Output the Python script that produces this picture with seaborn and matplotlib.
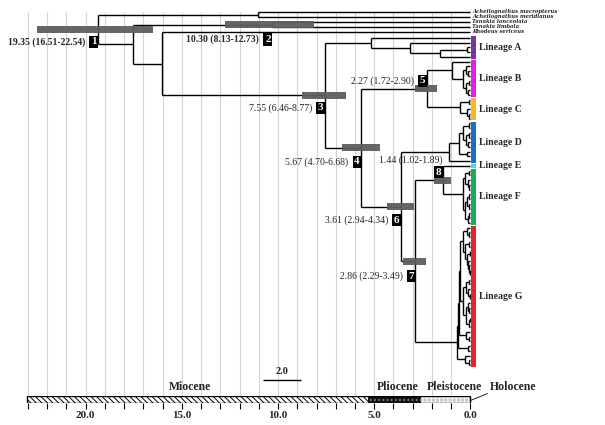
import matplotlib
matplotlib.use("Agg")
import matplotlib.pyplot as plt
from matplotlib.patches import Rectangle
import numpy as np
import pandas as pd
import seaborn as sns

sns.set_theme(style="white")
plt.rcParams['font.family'] = ['Liberation Serif', 'DejaVu Serif']
plt.rcParams['hatch.linewidth'] = 0.7

# ---------------- data ----------------
outgroup_taxa = ["Acheilognathus macropterus", "Acheilognathus meridianus",
                 "Tanakia lanceolata", "Tanakia limbata", "Rhodeus sericeus"]

# calibrated nodes (Myr)
node_number = [1, 2, 3, 4, 5, 6, 7, 8]
node_age = [19.35, 10.30, 7.55, 5.67, 2.27, 3.61, 2.86, 1.44]
hpd_low = [16.51, 8.13, 6.46, 4.70, 1.72, 2.94, 2.29, 1.02]
hpd_high = [22.54, 12.73, 8.77, 6.68, 2.90, 4.34, 3.49, 1.89]

# lineage subtrees (newick, internal labels = node ages in Myr)
clade_A = "(A1,(A2,((A3,A4)0.16,A5)1.56)3.12)5.19"
clade_B = "(B1,((B2,(B3,B4)0.12)0.22,((B5,B6)0.1,(B7,B8)0.14)0.25)0.38)0.94"
clade_C = "((C1,C2)0.1,(C3,(C4,C5)0.08)0.2)0.55"
clade_D = "((((D1,D2)0.1,((D3,D4)0.08,(D5,D6)0.12)0.25)0.4,(D7,D8)0.2)0.62,D9)1.14"
clade_E = "E1"
clade_F = ("(((F1,F2)0.1,(F3,(F4,F5)0.06)0.15)0.3,"
           "(((F6,F7)0.08,(F8,F9)0.1)0.2,((F10,F11)0.07,F12)0.15)0.28)0.4")
clade_GA = ("((G1,(G2,G3)0.06)0.2,((G4,G5)0.08,((G6,G7)0.05,"
            "(G8,(G9,(G10,G11)0.03)0.07)0.12)0.2)0.3)0.4")
clade_GB = ("(((G12,G13)0.07,(G14,(G15,G16)0.05)0.12)0.25,"
            "((G17,(G18,G19)0.06)0.15,((G20,G21)0.05,G22)0.1)0.22)0.38")
clade_G = (f"(((({clade_GA},{clade_GB})0.52,(G23,(G24,G25)0.1)0.25)0.58,"
           f"(G26,G27)0.15)0.64,(G28,(G29,G30)0.08)0.3)0.7")
ingroup = (f"({clade_A},(({clade_B},{clade_C})#5,({clade_D},"
           f"(({clade_E},{clade_F})#8,{clade_G})#7)#6)#4)#3")
full_tree = (f"((Acheilognathus macropterus,Acheilognathus meridianus)11.05,"
             f"((Tanakia lanceolata,Tanakia limbata)#2,"
             f"(Rhodeus sericeus,{ingroup})16.05)17.55)#1")

lineage_keys = ["A", "B", "C", "D", "E", "F", "G"]
lineage_names = ["Lineage A", "Lineage B", "Lineage C", "Lineage D",
                 "Lineage E", "Lineage F", "Lineage G"]
lineage_colors = ["#7434A4", "#E21FE6", "#F7B81F", "#1C6FC0",
                  "#46DCD6", "#13AE5E", "#E8232A"]

epoch_names = ["Miocene", "Pliocene", "Pleistocene", "Holocene"]
epoch_start = [23.03, 5.333, 2.58, 0.0117]
epoch_end = [5.333, 2.58, 0.0117, 0.0]

major_ticks = [20.0, 15.0, 10.0, 5.0, 0.0]
minor_ticks = list(range(0, 24))
scale_bar = 2.0

# ---------------- layout helpers ----------------
PX = 19.25          # pixels per Myr
X0 = 470.5          # pixel of age 0
W, H = 605, 425


def px(d):
    return d / PX


def parse(s):
    pos = 0

    def label():
        nonlocal pos
        st = pos
        while pos < len(s) and s[pos] not in ',()':
            pos += 1
        return s[st:pos]

    def node():
        nonlocal pos
        if s[pos] == '(':
            pos += 1
            kids = [node()]
            while s[pos] == ',':
                pos += 1
                kids.append(node())
            pos += 1
            return {'kids': kids, 'label': label()}
        return {'kids': [], 'label': label()}
    return node()


tree = parse(full_tree)

OUT_TOP, OUT_STEP = 12.0, 5.0
IN_TOP, IN_BOTTOM = 38.0, 365.0
leaves = []


def collect(n):
    if not n['kids']:
        leaves.append(n)
    for k in n['kids']:
        collect(k)


collect(tree)
n_in = sum(1 for l in leaves if l['label'] not in outgroup_taxa)
IN_STEP = (IN_BOTTOM - IN_TOP) / (n_in - 1)
io = ii = 0
for l in leaves:
    l['age'] = 0.0
    if l['label'] in outgroup_taxa:
        l['y'] = OUT_TOP + OUT_STEP * io
        io += 1
    else:
        l['y'] = IN_TOP + IN_STEP * ii
        ii += 1

calib = {}


def assign(n):
    if not n['kids']:
        return
    for k in n['kids']:
        assign(k)
    lab = n['label']
    if lab.startswith('#'):
        idx = int(lab[1:]) - 1
        n['age'] = node_age[idx]
        calib[idx] = n
    else:
        n['age'] = float(lab)
    n['y'] = (n['kids'][0]['y'] + n['kids'][-1]['y']) / 2


assign(tree)

hx, hy0, vx, vy0, vy1 = [], [], [], [], []


def segs(n):
    if not n['kids']:
        return
    vx.append(n['age'])
    vy0.append(n['kids'][0]['y'])
    vy1.append(n['kids'][-1]['y'])
    for k in n['kids']:
        hy0.append(k['y'])
        hx.append((n['age'], k['age']))
        segs(k)


segs(tree)

# ---------------- figure ----------------
fig = plt.figure(figsize=(W / 100, H / 100), dpi=100)
ax = fig.add_axes([0, 0, 1, 1])
ax.set_xlim(X0 / PX, -(W - X0) / PX)
ax.set_ylim(H, 0)
ax.set_axis_off()

# grid
ax.vlines(np.arange(1, 24), 12, 396, color="#d4d4d4", lw=0.8, zorder=0)

# branches
ax.hlines(hy0, [a for a, b in hx], [b for a, b in hx], color="black", lw=1.0, zorder=2)
ax.vlines(vx, vy0, vy1, color="black", lw=1.0, zorder=2)

# HPD bars
ys = [calib[i]['y'] for i in range(8)]
ax.barh(ys, np.array(hpd_high) - np.array(hpd_low), left=hpd_low, height=7,
        color="#5e5e5e", alpha=0.95, zorder=3, linewidth=0)

# node labels
box_dy = [12.5, 15.0, 12.5, 14.0, -8.0, 13.5, 15.0, -8.0]
for i in range(8):
    a, y = node_age[i], ys[i]
    by = y + box_dy[i]
    ax.text(a + px(1.5), by, str(node_number[i]), ha='right', va='center',
            color='white', fontsize=8, fontweight='bold', zorder=5,
            bbox=dict(boxstyle='square,pad=0.15', fc='black', ec='none'))
    lab = f"{node_age[i]:.2f} ({hpd_low[i]:.2f}-{hpd_high[i]:.2f})"
    wt = 'bold' if i < 2 else 'normal'
    if i == 7:
        ax.text(a, y - 19.5, lab, ha='right', va='center', fontsize=7,
                fontweight=wt, zorder=5)
    else:
        ax.text(a + px(13), by, lab, ha='right', va='center', fontsize=7,
                fontweight=wt, zorder=5)

# outgroup tip labels (wide, short glyphs like the reference)
for l in leaves:
    if l['label'] in outgroup_taxa:
        ax.text(-px(2), l['y'] - 0.8, l['label'], ha='left', va='center',
                fontsize=3.8, fontstyle='italic', fontweight='bold',
                family=['DejaVu Serif'])

# lineage bars and labels
for key, name, col in zip(lineage_keys, lineage_names, lineage_colors):
    yy = [l['y'] for l in leaves if l['label'].startswith(key)
          and l['label'] not in outgroup_taxa]
    top = min(yy) - IN_STEP / 2 + 0.6
    bot = max(yy) + IN_STEP / 2 - 0.6
    ax.barh((top + bot) / 2, px(5), left=-px(5.2), height=bot - top,
            color=col, zorder=3, linewidth=0)
    ax.text(-px(8.5), (top + bot) / 2, name, ha='left', va='center',
            fontsize=7, fontweight='bold')

# scale bar
ax.hlines(380, 8.8 + scale_bar, 8.8, color='black', lw=1.0)
ax.text(8.8 + scale_bar / 2, 372, f"{scale_bar:.1f}", ha='center', va='center',
        fontsize=7.5, fontweight='bold')

# epoch labels
lab_dx = [-8, 3, 9, 0]
for i, nm in enumerate(epoch_names):
    if nm == "Holocene":
        ax.text(-px(19), 387, nm, ha='left', va='center', fontsize=8.5,
                fontweight='bold')
        ax.plot([epoch_end[i], -px(17)], [400.5, 393.5], color='black', lw=0.6)
    else:
        mid = (epoch_start[i] + epoch_end[i]) / 2 - px(lab_dx[i])
        ax.text(mid, 387, nm, ha='center', va='center', fontsize=8.5,
                fontweight='bold')

# time bar axis
ax2 = fig.add_axes([0, 1 - 403 / H, 1, 7 / H])
ax2.set_xlim(ax.get_xlim())
ax2.set_ylim(0, 1)
ax2.patch.set_alpha(0)
styles = [dict(fc='white', ec='black', hatch='\\\\\\\\\\\\'),
          dict(fc='#151515', ec='#8a8a8a', hatch='....'),
          dict(fc='#c8c8c8', ec='white', hatch='++++'),
          dict(fc='black', ec='black', hatch=None)]
for s, e, st in zip(epoch_start, epoch_end, styles):
    ax2.add_patch(Rectangle((e, 0), s - e, 1, lw=0, **st))
ax2.add_patch(Rectangle((0, 0), epoch_start[0], 1, fill=False, ec='black', lw=1.0))
ax2.set_xticks(major_ticks)
ax2.set_xticklabels([f"{t:.1f}" for t in major_ticks], fontweight='bold')
ax2.set_xticks(minor_ticks, minor=True)
ax2.tick_params(axis='x', which='both', direction='out', length=4, width=0.8,
                color='black', labelsize=8, pad=1.5, bottom=True)
ax2.set_yticks([])
for sp in ax2.spines.values():
    sp.set_visible(False)

fig.savefig("out.png", dpi=100, facecolor='white')
